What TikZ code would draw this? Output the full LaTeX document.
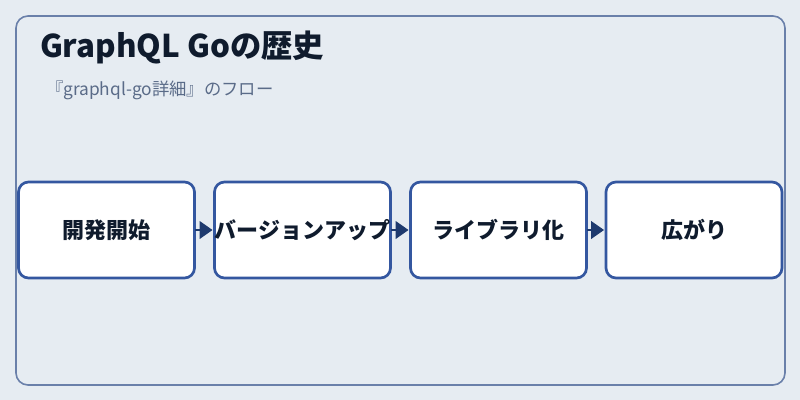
\documentclass[tikz,border=0pt]{standalone}
\usepackage{fontspec}
\usepackage{xcolor}
\usepackage{tikz}
\usetikzlibrary{shapes,arrows,arrows.meta,positioning,calc}
\setmainfont{Noto Sans CJK JP}
\newfontfamily\jpfont{Noto Sans CJK JP}
\definecolor{pagebg}{HTML}{E6ECF2}
\definecolor{framecol}{HTML}{6A80AA}
\definecolor{stageline}{HTML}{3457A0}
\definecolor{flowcol}{HTML}{1E3A6E}
\definecolor{titlecol}{HTML}{0F1B2D}
\definecolor{subcol}{HTML}{5A6B88}

\begin{document}
\begin{tikzpicture}[x=0.75pt,y=-0.75pt,every node/.style={outer sep=0pt}]
\tikzstyle{stage}=[draw=stageline,line width=2pt,fill=white,rounded corners=7.5pt,
minimum width=132pt,minimum height=72pt,inner sep=0pt,
font=\jpfont\bfseries\fontsize{16.5}{18}\selectfont,text=titlecol]
\tikzstyle{flow}=[-{Triangle[length=9.75pt,width=13.5pt]},flowcol,line width=0.8pt,shorten >=1.5pt]
\useasboundingbox (0,0) rectangle (800,400);
\fill[pagebg] (0,0) rectangle (800,400);
\draw[framecol,line width=1.2pt,rounded corners=9pt] (16,16) rectangle (785,385);
\node (title) [anchor=west,inner sep=0pt,text=titlecol,font=\jpfont\bfseries\fontsize{23.5}{26}\selectfont] at (40,47) {GraphQL Goの歴史};
\node (sub) [anchor=west,inner sep=0pt,text=subcol,font=\jpfont\fontsize{13}{15}\selectfont] at (46,90) {『graphql-go詳細』のフロー};
% stages
\node (start) [stage] at (106.5,230) {開発開始};
\node (vup) [stage] at (302.5,230) {バージョンアップ};
\node (lib) [stage] at (498.5,230) {ライブラリ化};
\node (spread) [stage] at (694,230) {広がり};
\draw [flow] (start.east) -- (vup.west);
\draw [flow] (vup.east) -- (lib.west);
\draw [flow] (lib.east) -- (spread.west);
\end{tikzpicture}
\end{document}
